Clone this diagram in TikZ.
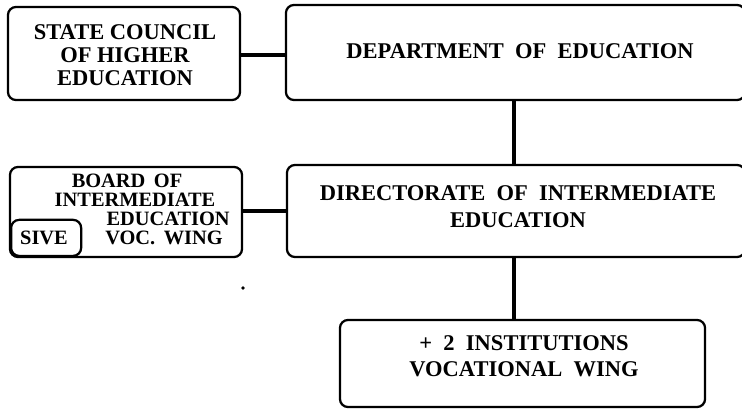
\documentclass[tikz,border=0pt]{standalone}
\usepackage{fontspec}
\setmainfont{Liberation Serif}
\begin{document}
\begin{tikzpicture}[x=0.025cm,y=-0.025cm,
  box/.style={draw, line width=1.6pt, rounded corners=0.2cm, inner sep=0pt},
  lbl/.style={font=\bfseries\fontsize{16}{16.2}\selectfont, align=center, inner sep=0pt},
  lbls/.style={font=\bfseries\fontsize{14.5}{14.5}\selectfont, inner sep=0pt, anchor=base, text height=9.5pt, text depth=0pt},
  conn/.style={line width=2.2pt}]
\useasboundingbox (0,0) rectangle (742,409);
\clip (0,0) rectangle (742,409);
% boxes
\node[box, minimum width=5.8cm, minimum height=2.325cm] (sc) at (124,53.5) {};
\node[lbl] (sct) at (125,55) {STATE COUNCIL\\OF HIGHER\\EDUCATION};
\node[box, minimum width=11.475cm, minimum height=2.375cm] (dept) at (515.5,52.5) {};
\node[lbl] (deptt) at (520,51) {DEPARTMENT \ OF \ EDUCATION};
\node[box, minimum width=5.8cm, minimum height=2.25cm] (board) at (126,212) {};
\node[box, minimum width=1.75cm, minimum height=0.9cm, anchor=south west] (sive) at (10,257) {};
\node[lbls] (b1) at (127,187) {BOARD \,OF};
\node[lbls] (b2) at (135,206) {INTERMEDIATE};
\node[lbls, anchor=base east] (b3) at (230,225) {EDUCATION};
\node[lbls, anchor=base east] (b4) at (223,244) {VOC. \,WING};
\node[lbls] (b5) at (44,244) {SIVE};
\node[box, minimum width=11.45cm, minimum height=2.3cm] (dir) at (516,211) {};
\node[lbl] (dirt) at (518,207) {DIRECTORATE \ OF \ INTERMEDIATE\\[3pt]EDUCATION};
\node[box, minimum width=9.125cm, minimum height=2.175cm] (inst) at (522.5,363.5) {};
\node[lbl] (instt) at (524,356) {+ \ 2 \ INSTITUTIONS\\[2pt]VOCATIONAL \ WING};
% connectors
\draw[conn] (sc.east |- 0,55) -- (dept.west |- 0,55);
\draw[conn] (board.east |- 0,211) -- (dir.west |- 0,211);
\draw[conn] (dept.south -| 514,0) -- (dir.north -| 514,0);
\draw[conn] (dir.south -| 514,0) -- (inst.north -| 514,0);
% stray dot
\fill (243,288) circle (1.8);
\end{tikzpicture}
\end{document}
